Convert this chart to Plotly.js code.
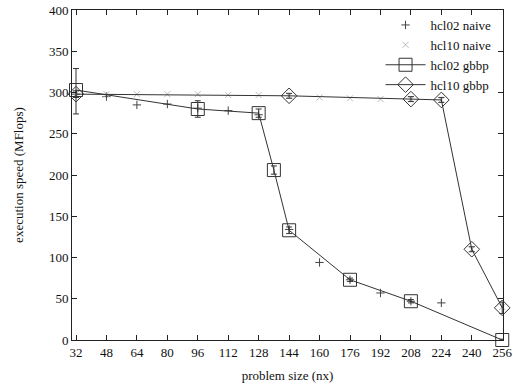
<!DOCTYPE html>
<html>
<head>
<meta charset="utf-8">
<script src="https://cdn.plot.ly/plotly-3.0.1.min.js"></script>
<style>html,body{margin:0;padding:0;background:#fff}#chart{width:513px;height:385px}</style>
</head>
<body>
<div id="chart"></div>
<script>
// Data
const xTicks = [32, 48, 64, 80, 96, 112, 128, 144, 160, 176, 192, 208, 224, 240, 256];

const naive02X = [32, 48, 64, 80, 96, 112, 128, 144, 160, 176, 192, 208, 224];
const naive02Y = [298, 295, 285, 286, 281, 278, 273, 134, 94, 73, 57, 47, 45];

const naive10X = [32, 48, 64, 80, 96, 112, 128, 144, 160, 176, 192, 208, 224, 240, 256];
const naive10Y = [298, 298, 298, 298, 298, 297, 297, 296, 294, 293, 292, 292, 291, 110, 40];

const gbbp02X = [32, 96, 128, 136, 144, 176, 208, 256];
const gbbp02Y = [303, 280, 275, 206, 133, 73, 47, 0];
const gbbp02ErrPlus = [26, 10, 5, 5, 4, 2, 2, 1];
const gbbp02ErrMinus = [29, 10, 5, 5, 4, 2, 2, 1];

const gbbp10X = [32, 144, 208, 224, 240, 256];
const gbbp10Y = [298, 296, 292, 291, 110, 39];
const gbbp10Err = [4, 3, 3, 3, 3, 7];

const font = 'Liberation Serif';
const txt = '#111';

const traces = [
  {
    x: naive02X, y: naive02Y, name: 'hcl02 naive', type: 'scatter', mode: 'markers', cliponaxis: false,
    marker: {symbol: 'cross-thin-open', size: 6, color: '#444', line: {width: 1, color: '#444'}}
  },
  {
    x: naive10X, y: naive10Y, name: 'hcl10 naive', type: 'scatter', mode: 'markers', cliponaxis: false,
    marker: {symbol: 'x-thin-open', size: 6, color: '#bbb', line: {width: 1, color: '#bbb'}}
  },
  {
    x: gbbp02X, y: gbbp02Y, name: 'hcl02 gbbp', type: 'scatter', mode: 'lines+markers', cliponaxis: false,
    line: {color: '#333', width: 1},
    marker: {symbol: 'square-open', size: 13, color: '#333', line: {width: 1, color: '#333'}},
    error_y: {type: 'data', symmetric: false, array: gbbp02ErrPlus, arrayminus: gbbp02ErrMinus,
              color: '#333', thickness: 1, width: 3}
  },
  {
    x: gbbp10X, y: gbbp10Y, name: 'hcl10 gbbp', type: 'scatter', mode: 'lines+markers', cliponaxis: false,
    line: {color: '#333', width: 1},
    marker: {symbol: 'diamond-open', size: 12, color: '#333', line: {width: 1, color: '#333'}},
    error_y: {type: 'data', array: gbbp10Err, color: '#333', thickness: 1, width: 3}
  }
];

const layout = {
  width: 513, height: 385,
  margin: {l: 72, r: 10, t: 10, b: 45},
  paper_bgcolor: '#fff', plot_bgcolor: '#fff',
  font: {family: font, size: 13, color: txt},
  showlegend: true,
  legend: {
    x: 0.985, y: 1.0, xanchor: 'right', yanchor: 'top',
    bgcolor: 'rgba(0,0,0,0)', borderwidth: 0,
    font: {family: font, size: 13, color: txt},
    tracegroupgap: 0, itemwidth: 40
  },
  xaxis: {
    range: [29.9, 256.4], tickmode: 'array', tickvals: xTicks, ticktext: xTicks.map(String),
    ticks: 'inside', ticklen: 5, tickcolor: '#222', mirror: 'ticks',
    showline: true, linecolor: '#222', linewidth: 1, showgrid: false, zeroline: false,
    tickfont: {family: font, size: 13, color: txt},
    title: {text: 'problem size (nx)', font: {family: font, size: 13, color: txt}, standoff: 12}
  },
  yaxis: {
    range: [0, 400], dtick: 50, tick0: 0,
    ticks: 'inside', ticklen: 5, tickcolor: '#222', mirror: 'ticks',
    showline: true, linecolor: '#222', linewidth: 1, showgrid: false, zeroline: false,
    tickfont: {family: font, size: 13, color: txt},
    title: {text: 'execution speed (MFlops)', font: {family: font, size: 13, color: txt}, standoff: 22}
  }
};

Plotly.newPlot('chart', traces, layout, {displayModeBar: false, staticPlot: true});
</script>
</body>
</html>
